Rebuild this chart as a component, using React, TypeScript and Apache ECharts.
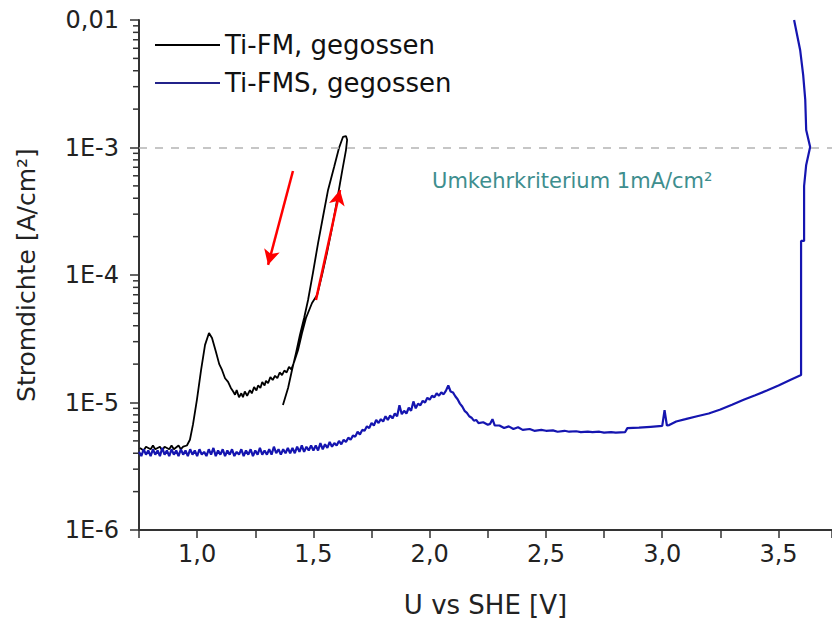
import React, { useEffect, useRef } from "react";
import * as echarts from "echarts";

// ---- axis settings ----
const X_MIN = 0.75;
const X_MAX = 3.73;
const X_INTERVAL = 0.25;
const Y_MIN = 1e-6;
const Y_MAX = 1e-2;
const Y_DECADES = [-6, -5, -4, -3];
const MINOR_MULTIPLIERS = [2, 3, 4, 5, 6, 7, 8, 9];

const LEGEND_NAMES = ["Ti-FM, gegossen", "Ti-FMS, gegossen"];
const CRITERION = 1e-3;
const CRITERION_LABEL = "Umkehrkriterium 1mA/cm²";
const CRITERION_LABEL_AT: [number, number] = [2.01, 5.5e-4];

// ---- series data: [U vs SHE (V), current density (A/cm²)] ----
const tiFM: [number, number][] = [
  [0.754, 4.4e-6], [0.77, 4.2e-6], [0.78, 4.5e-6], [0.8, 4.3e-6], [0.81, 4.6e-6], [0.82, 4.3e-6],
  [0.84, 4.5e-6], [0.85, 4.2e-6], [0.86, 4.5e-6], [0.88, 4.3e-6], [0.89, 4.6e-6], [0.9, 4.3e-6],
  [0.92, 4.6e-6], [0.93, 4.3e-6], [0.94, 4.5e-6],
  [0.956, 4.6e-6], [0.969, 5.1e-6], [0.982, 6.7e-6], [0.999, 1.05e-5], [1.017, 1.8e-5],
  [1.034, 2.83e-5], [1.051, 3.51e-5], [1.064, 3.21e-5], [1.081, 2.49e-5], [1.095, 2.0e-5],
  [1.107, 1.8e-5], [1.12, 1.55e-5], [1.133, 1.45e-5], [1.145, 1.3e-5], [1.155, 1.22e-5],
  [1.163, 1.15e-5], [1.17, 1.25e-5], [1.18, 1.1e-5], [1.19, 1.18e-5], [1.197, 1.1e-5],
  [1.205, 1.22e-5], [1.215, 1.13e-5], [1.227, 1.25e-5], [1.235, 1.18e-5], [1.245, 1.32e-5],
  [1.255, 1.24e-5], [1.262, 1.36e-5], [1.272, 1.3e-5], [1.28, 1.45e-5], [1.29, 1.36e-5],
  [1.296, 1.48e-5], [1.305, 1.42e-5], [1.315, 1.58e-5], [1.325, 1.5e-5], [1.335, 1.62e-5],
  [1.345, 1.55e-5], [1.355, 1.72e-5], [1.365, 1.64e-5], [1.375, 1.78e-5], [1.385, 1.72e-5],
  [1.395, 1.9e-5], [1.405, 1.82e-5], [1.417, 2.08e-5], [1.434, 2.58e-5], [1.451, 3.51e-5],
  [1.468, 4.6e-5], [1.494, 6.03e-5], [1.516, 6.97e-5], [1.537, 1.0e-4], [1.559, 1.51e-4],
  [1.58, 2.34e-4], [1.602, 3.88e-4], [1.623, 6.43e-4], [1.64, 9.55e-4], [1.645, 1.15e-3],
  [1.64, 1.23e-3], [1.627, 1.21e-3], [1.61, 9.91e-4], [1.589, 7.03e-4], [1.563, 4.65e-4],
  [1.541, 2.85e-4], [1.52, 1.78e-4], [1.498, 1.04e-4], [1.477, 6.37e-5], [1.46, 4.6e-5],
  [1.442, 3.38e-5], [1.425, 2.44e-5], [1.408, 1.8e-5], [1.391, 1.3e-5], [1.369, 9.55e-6],
];

const tiFMS: [number, number][] = [
  [0.75, 4.1e-6], [0.76, 3.8e-6], [0.77, 4.3e-6], [0.78, 3.9e-6], [0.79, 4.2e-6], [0.8, 3.8e-6],
  [0.81, 4.3e-6], [0.82, 3.9e-6], [0.83, 4.2e-6], [0.84, 3.8e-6], [0.85, 4.4e-6], [0.86, 3.9e-6],
  [0.87, 4.2e-6], [0.88, 3.8e-6], [0.89, 4.3e-6], [0.9, 3.9e-6], [0.91, 4.2e-6], [0.92, 3.8e-6],
  [0.93, 4.3e-6], [0.94, 3.9e-6], [0.95, 4.2e-6], [0.96, 3.8e-6], [0.97, 4.3e-6], [0.98, 3.9e-6],
  [0.99, 4.2e-6], [1.0, 3.8e-6], [1.01, 4.3e-6], [1.02, 3.9e-6], [1.03, 4.1e-6], [1.04, 3.8e-6],
  [1.05, 4.3e-6], [1.06, 3.9e-6], [1.07, 4.4e-6], [1.08, 3.8e-6], [1.09, 4.2e-6], [1.1, 3.9e-6],
  [1.11, 4.3e-6], [1.12, 3.8e-6], [1.13, 4.2e-6], [1.14, 3.9e-6], [1.15, 4.3e-6], [1.16, 3.8e-6],
  [1.17, 4.1e-6], [1.18, 3.9e-6], [1.19, 4.3e-6], [1.2, 3.8e-6], [1.21, 4.2e-6], [1.22, 3.9e-6],
  [1.23, 4.3e-6], [1.24, 3.8e-6], [1.25, 4.2e-6], [1.26, 3.9e-6], [1.27, 4.4e-6], [1.28, 3.9e-6],
  [1.29, 4.2e-6], [1.3, 3.9e-6], [1.31, 4.3e-6], [1.32, 3.9e-6], [1.33, 4.5e-6], [1.34, 4.0e-6],
  [1.35, 4.3e-6], [1.36, 3.9e-6], [1.37, 4.3e-6], [1.38, 4.0e-6], [1.39, 4.4e-6], [1.4, 4.0e-6],
  [1.41, 4.4e-6], [1.42, 4.0e-6], [1.43, 4.5e-6], [1.44, 4.1e-6], [1.45, 4.6e-6], [1.46, 4.1e-6],
  [1.47, 4.5e-6], [1.48, 4.2e-6], [1.49, 4.6e-6], [1.5, 4.2e-6], [1.51, 4.6e-6], [1.52, 4.2e-6],
  [1.53, 4.8e-6], [1.54, 4.3e-6], [1.55, 4.7e-6], [1.56, 4.4e-6], [1.57, 4.9e-6], [1.58, 4.5e-6],
  [1.59, 4.8e-6], [1.6, 4.6e-6], [1.61, 5.0e-6], [1.62, 4.7e-6], [1.63, 5.1e-6], [1.64, 4.9e-6],
  [1.65, 5.3e-6], [1.66, 5.1e-6], [1.67, 5.5e-6], [1.68, 5.4e-6], [1.69, 5.9e-6], [1.7, 5.6e-6],
  [1.71, 6.1e-6], [1.72, 6.0e-6], [1.73, 6.5e-6], [1.74, 6.3e-6], [1.75, 6.9e-6], [1.76, 6.6e-6],
  [1.77, 7.3e-6], [1.78, 6.9e-6], [1.79, 7.4e-6], [1.8, 7.1e-6], [1.81, 7.8e-6], [1.82, 7.3e-6],
  [1.83, 7.9e-6], [1.84, 7.5e-6], [1.85, 8.2e-6], [1.86, 7.8e-6], [1.87, 9.5e-6], [1.88, 8.1e-6],
  [1.89, 8.6e-6], [1.9, 8.2e-6], [1.91, 9.1e-6], [1.92, 8.6e-6], [1.93, 1.02e-5], [1.94, 9.0e-6],
  [1.95, 9.8e-6], [1.96, 9.5e-6], [1.97, 1.03e-5], [1.98, 1.0e-5], [1.99, 1.09e-5], [2.0, 1.05e-5],
  [2.01, 1.13e-5], [2.02, 1.1e-5], [2.03, 1.18e-5], [2.04, 1.13e-5], [2.05, 1.2e-5], [2.06, 1.16e-5],
  [2.07, 1.24e-5], [2.08, 1.36e-5], [2.09, 1.22e-5], [2.1, 1.2e-5], [2.11, 1.12e-5], [2.12, 1.06e-5],
  [2.13, 9.8e-6], [2.14, 9.3e-6], [2.15, 8.6e-6], [2.16, 8.3e-6], [2.17, 7.8e-6], [2.18, 7.6e-6],
  [2.19, 7.2e-6], [2.2, 7.3e-6], [2.21, 6.9e-6], [2.23, 7.0e-6], [2.25, 6.7e-6], [2.26, 6.8e-6],
  [2.27, 7.4e-6], [2.28, 6.6e-6], [2.3, 6.6e-6], [2.32, 6.3e-6], [2.34, 6.5e-6], [2.36, 6.2e-6],
  [2.38, 6.4e-6], [2.4, 6.1e-6], [2.43, 6.2e-6], [2.45, 6.0e-6], [2.48, 6.1e-6], [2.5, 6.0e-6],
  [2.53, 6.05e-6], [2.55, 5.9e-6], [2.58, 6.0e-6], [2.6, 5.9e-6], [2.63, 5.95e-6], [2.65, 5.85e-6],
  [2.68, 5.9e-6], [2.7, 5.85e-6], [2.73, 5.9e-6], [2.75, 5.8e-6], [2.78, 5.85e-6], [2.8, 5.8e-6],
  [2.84, 5.85e-6], [2.85, 6.3e-6], [2.9, 6.35e-6], [2.95, 6.45e-6], [3.0, 6.55e-6],
  [3.01, 8.7e-6], [3.02, 6.6e-6], [3.03, 6.65e-6], [3.06, 7.1e-6], [3.1, 7.4e-6],
  [3.15, 7.8e-6], [3.2, 8.2e-6], [3.25, 8.8e-6], [3.3, 9.6e-6], [3.35, 1.05e-5],
  [3.4, 1.14e-5], [3.45, 1.24e-5], [3.5, 1.36e-5], [3.55, 1.5e-5], [3.597, 1.64e-5],
  [3.597, 1.85e-4], [3.61, 1.85e-4], [3.61, 4.99e-4], [3.619, 7.3e-4], [3.636, 1.01e-3],
  [3.619, 1.37e-3], [3.615, 2.36e-3], [3.606, 3.71e-3], [3.593, 5.82e-3], [3.567, 1.0e-2],
];

// direction arrows: [from, to]
const arrows: [[number, number], [number, number]][] = [
  [[1.412, 6.54e-4], [1.305, 1.2e-4]],
  [[1.511, 6.37e-5], [1.6145, 4.64e-4]],
];

const minorTicks: number[] = [];
Y_DECADES.forEach((e) => MINOR_MULTIPLIERS.forEach((m) => minorTicks.push(m * Math.pow(10, e))));

const FONT = "DejaVu Sans";

export default function App() {
  const ref = useRef<HTMLDivElement>(null);
  useEffect(() => {
    document.body.style.margin = "0";
    const chart = echarts.init(ref.current!, null, { renderer: "svg" });
    const option: any = {
      animation: false,
      backgroundColor: "#ffffff",
      textStyle: { fontFamily: FONT },
      grid: { left: 139, right: 0, top: 20, bottom: 96, containLabel: false, outerBoundsMode: "none" },
      legend: {
        data: LEGEND_NAMES.map((n) => ({ name: n, icon: "rect" })),
        orient: "vertical",
        left: 155,
        top: 32,
        padding: 0,
        itemWidth: 65,
        itemHeight: 2,
        itemGap: 12,
        selectedMode: false,
        textStyle: { fontSize: 26, color: "#111", fontFamily: FONT },
      },
      xAxis: {
        type: "value",
        min: X_MIN,
        max: X_MAX,
        interval: X_INTERVAL,
        name: "U vs SHE [V]",
        nameLocation: "middle",
        nameGap: 62,
        nameTextStyle: { fontSize: 26, color: "#222", fontFamily: FONT },
        axisLine: { show: true, lineStyle: { color: "#333", width: 2 } },
        axisTick: { show: true, length: 8, lineStyle: { color: "#333", width: 1.5 } },
        axisLabel: {
          fontSize: 24,
          color: "#222",
          margin: 12,
          fontFamily: FONT,
          formatter: (v: number) =>
            Math.abs(v * 2 - Math.round(v * 2)) < 1e-6 ? v.toFixed(1).replace(".", ",") : "",
        },
        splitLine: { show: false },
      },
      yAxis: {
        type: "log",
        logBase: 10,
        min: Y_MIN,
        max: Y_MAX,
        name: "Stromdichte [A/cm²]",
        nameLocation: "middle",
        nameGap: 100,
        nameTextStyle: { fontSize: 25, color: "#222", fontFamily: FONT },
        axisLine: { show: true, lineStyle: { color: "#333", width: 2 } },
        axisTick: { show: true, length: 9, lineStyle: { color: "#333", width: 1.5 } },
        axisLabel: {
          fontSize: 24,
          color: "#222",
          margin: 20,
          fontFamily: FONT,
          formatter: (v: number) => {
            const e = Math.round(Math.log10(v));
            return e === -2 ? "0,01" : `1E${e}`;
          },
        },
        splitLine: { show: false },
      },
      series: [
        {
          name: LEGEND_NAMES[0],
          type: "line",
          data: tiFM,
          symbol: "none",
          z: 3,
          lineStyle: { color: "#000", width: 1.8 },
          itemStyle: { color: "#000" },
          markLine: {
            silent: true,
            symbol: ["none", "arrow"],
            symbolSize: [12, 15],
            label: { show: false },
            lineStyle: { color: "#ff0000", width: 2.5, type: "solid" },
            data: arrows.map(([a, b]) => [{ coord: a }, { coord: b }]),
          },
        },
        {
          name: LEGEND_NAMES[1],
          type: "line",
          data: tiFMS,
          symbol: "none",
          z: 4,
          lineStyle: { color: "#1515b0", width: 2.2 },
          itemStyle: { color: "#23238a" },
          markLine: {
            silent: true,
            symbol: ["none", "none"],
            label: { show: false },
            lineStyle: { color: "#b4b4b4", width: 1.5, type: [8, 8] },
            data: [[{ coord: [X_MIN, CRITERION] }, { coord: [X_MAX, CRITERION] }]],
          },
          markPoint: {
            silent: true,
            symbol: "circle",
            symbolSize: 0,
            data: [
              {
                coord: CRITERION_LABEL_AT,
                label: {
                  show: true,
                  formatter: CRITERION_LABEL,
                  position: "right",
                  distance: 0,
                  fontSize: 21,
                  color: "#3e8e8e",
                  fontFamily: FONT,
                },
              },
            ],
          },
        },
        {
          name: "minorTicks",
          type: "custom",
          clip: false,
          silent: true,
          data: minorTicks.map((v) => [X_MIN, v]),
          renderItem: (params: any, api: any) => {
            const p = api.coord([api.value(0), api.value(1)]);
            const x0 = params.coordSys.x;
            return {
              type: "line",
              shape: { x1: x0 - 6, y1: p[1], x2: x0, y2: p[1] },
              style: { stroke: "#333", lineWidth: 1.5 },
            };
          },
        },
      ],
    };
    chart.setOption(option);
    return () => chart.dispose();
  }, []);
  return (
    <div
      ref={ref}
      style={{ position: "fixed", left: 0, top: 0, width: 832, height: 626, background: "#fff" }}
    />
  );
}
